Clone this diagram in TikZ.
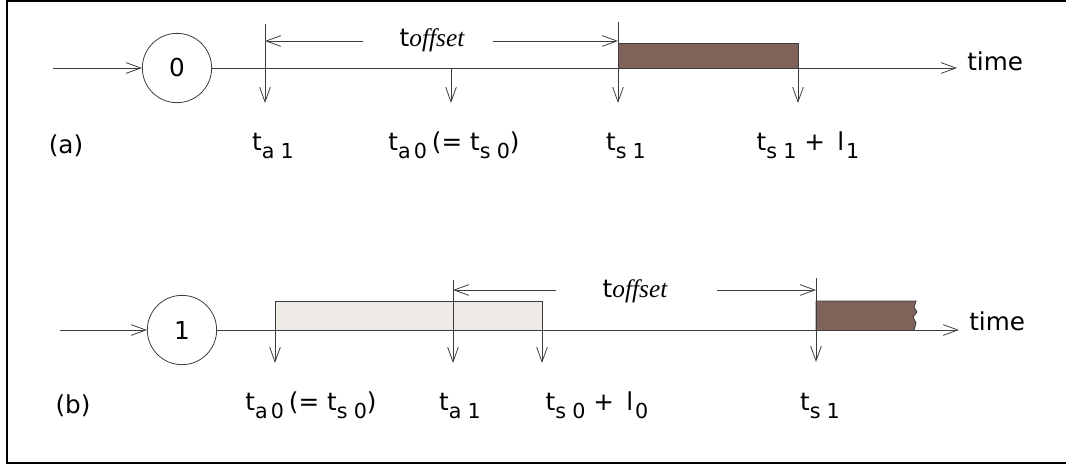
\documentclass[tikz,border=0pt]{standalone}
\usepackage{fontspec}
\setmainfont{DejaVu Sans}
\newfontfamily\offsetfont{Liberation Serif}
\usetikzlibrary{arrows.meta}
\definecolor{taskbrown}{RGB}{127,98,89}
\definecolor{tasklight}{RGB}{238,235,231}
\definecolor{linegray}{RGB}{60,60,60}
\newcommand\sbx[1]{\raisebox{-0.6ex}{\fontsize{15.5}{16}\selectfont #1}}
\newcommand\toff{t{\offsetfont\itshape\fontsize{19}{20}\selectfont offset}}
\tikzset{
  ln/.style={draw=linegray, line width=0.6pt},
  arr/.style={ln, -{Straight Barb[length=11pt,width=8pt]}},
  lbl/.style={font=\fontsize{18.5}{20}\selectfont, inner sep=0pt},
  statec/.style={circle, ln, minimum size=52pt, inner sep=0pt, font=\fontsize{18.5}{20}\selectfont},
  darkbox/.style={draw=linegray, line width=0.6pt, fill=taskbrown},
  lightbox/.style={draw=linegray, line width=0.6pt, fill=tasklight}
}
\begin{document}
\begin{tikzpicture}[x=0.75pt, y=-0.75pt]
\useasboundingbox (0,0) rectangle (1066,465);
\draw[line width=1.6pt] (1066,1) -- (7,1) -- (7,463) -- (1066,463);

% ---------- panel (a)
\coordinate (ina) at (53,68);
\node[statec] (c0) at (177,68) {0};
\coordinate (enda) at (957,68);
\draw[darkbox] (618,43) rectangle (798,68);
\draw[arr] (ina) -- (c0);
\draw[arr] (c0) -- (enda);
\node[lbl, anchor=west] (timea) at (967,61) {time};

\coordinate (ta1top) at (265,24);  \coordinate (ta1bot) at (265,103);
\coordinate (ta0top) at (451,68);  \coordinate (ta0bot) at (451,103);
\coordinate (ts1top) at (618,22);  \coordinate (ts1bot) at (618,103);
\coordinate (tsltop) at (798,68);  \coordinate (tslbot) at (798,103);
\draw[arr] (ta1top) -- (ta1bot);
\draw[arr] (ta0top) -- (ta0bot);
\draw[arr] (ts1top) -- (ts1bot);
\draw[arr] (tsltop) -- (tslbot);

\node[lbl] (offa) at (432,40) {\toff};
\coordinate (offal) at (363,41); \coordinate (offala) at (265,41);
\coordinate (offar) at (493,41); \coordinate (offara) at (618,41);
\draw[arr] (offal) -- (offala);
\draw[arr] (offar) -- (offara);

\node[lbl, anchor=base] (pa) at (66,153) {(a)};
\node[lbl, anchor=base] (la1) at (273,150) {t\sbx{a\hspace{0.3em}1}};
\node[lbl, anchor=base] (la0) at (454,150) {t\sbx{a\hspace{0.15em}0}\hspace{0.2em}(= t\sbx{s\hspace{0.3em}0})};
\node[lbl, anchor=base] (ls1) at (626,150) {t\sbx{s\hspace{0.3em}1}};
\node[lbl, anchor=base] (lsl) at (808,150) {t\sbx{s\hspace{0.3em}1} +\hspace{0.5em}l\sbx{\hspace{0.1em}1}};

% ---------- panel (b)
\coordinate (inb) at (60,330);
\node[statec] (c1) at (182,330) {1};
\coordinate (endb) at (959,330);
\draw[lightbox] (275,301) rectangle (542,330);
\fill[taskbrown] (816,301) -- (916,301) -- (914,307) -- (917,312) -- (913,317) -- (916,323) -- (914,330) -- (816,330) -- cycle;
\draw[ln] (816,330) -- (816,301) -- (916,301) -- (914,307) -- (917,312) -- (913,317) -- (916,323) -- (914,330);
\draw[arr] (inb) -- (c1);
\draw[arr] (c1) -- (endb);
\node[lbl, anchor=west] (timeb) at (969,321) {time};

\coordinate (tb0top) at (275,330); \coordinate (tb0bot) at (275,363);
\coordinate (tb1top) at (453,280); \coordinate (tb1bot) at (453,363);
\coordinate (tblTop) at (542,330); \coordinate (tblbot) at (542,363);
\coordinate (tbstop) at (816,278); \coordinate (tbsbot) at (816,362);
\draw[arr] (tb0top) -- (tb0bot);
\draw[arr] (tb1top) -- (tb1bot);
\draw[arr] (tblTop) -- (tblbot);
\draw[arr] (tbstop) -- (tbsbot);

\node[lbl] (offb) at (635,291) {\toff};
\coordinate (offbl) at (556,290); \coordinate (offbla) at (453,290);
\coordinate (offbr) at (717,290); \coordinate (offbra) at (816,290);
\draw[arr] (offbl) -- (offbla);
\draw[arr] (offbr) -- (offbra);

\node[lbl, anchor=base] (pb) at (73,413) {(b)};
\node[lbl, anchor=base] (lb0) at (311,410) {t\sbx{a\hspace{0.15em}0}\hspace{0.2em}(= t\sbx{s\hspace{0.3em}0})};
\node[lbl, anchor=base] (lb1) at (460,410) {t\sbx{a\hspace{0.3em}1}};
\node[lbl, anchor=base] (lbl) at (597,410) {t\sbx{s\hspace{0.3em}0} +\hspace{0.5em}l\sbx{\hspace{0.1em}0}};
\node[lbl, anchor=base] (lbs) at (820,410) {t\sbx{s\hspace{0.3em}1}};
\end{tikzpicture}
\end{document}
